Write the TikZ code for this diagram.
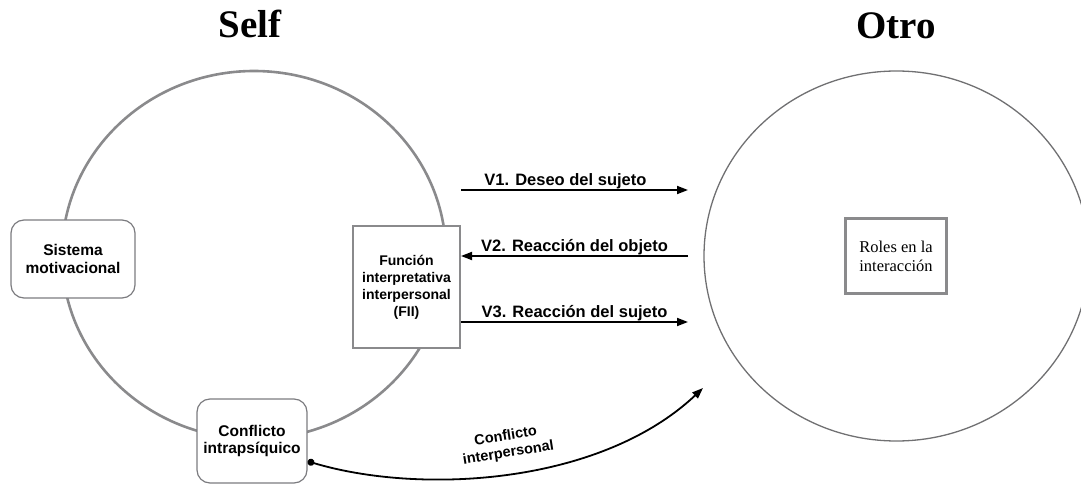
\documentclass[tikz,border=0pt]{standalone}
\usepackage{fontspec}
\setmainfont{Liberation Serif}
\setsansfont{Liberation Sans}
\usepackage{tikz}
\usepackage{xcolor}
\usetikzlibrary{arrows.meta}

\definecolor{circgray}{HTML}{8A8A8C}
\definecolor{linegray}{HTML}{707072}
\definecolor{boxgray}{HTML}{7C7C80}

\begin{document}
\begin{tikzpicture}[x=1pt,y=-1pt,
  boxround/.style={draw=boxgray,line width=1.2pt,rounded corners=13pt,fill=white,align=center,inner sep=0pt,font=\sffamily\bfseries\fontsize{15.5}{17.5}\selectfont},
  boxsquare/.style={draw=circgray,line width=2pt,fill=white,align=center,inner sep=0pt},
  varrow/.style={line width=1.8pt,-{Triangle[length=11pt,width=8pt]}},
  vlabel/.style={above,inner sep=0.5pt,font=\sffamily\bfseries\fontsize{16.5}{19}\selectfont},
  title/.style={font=\bfseries\fontsize{39}{40}\selectfont}]
\useasboundingbox (0,0) rectangle (1081,486);

\node[title] (tself) at (250,24) {Self};
\node[title] (totro) at (896,26) {Otro};

\draw[circgray,line width=2.6pt] (254,255) ellipse [x radius=192,y radius=184];
\draw[linegray,line width=1.3pt] (896.5,256) ellipse [x radius=192.5,y radius=185];

\node[boxround,minimum width=124,minimum height=78] (sismot) at (73,259) {Sistema\\motivacional};
\node[boxsquare,minimum width=107,minimum height=122,font=\sffamily\bfseries\fontsize{14}{17}\selectfont] (fii) at (406.5,287) {Función\\interpretativa\\interpersonal\\(FII)};
\node[boxround,minimum width=110,minimum height=84] (cintra) at (252,441) {Conflicto\\intrapsíquico};
\node[boxsquare,line width=2.4pt,minimum width=101,minimum height=75,font=\fontsize{16.5}{19}\selectfont] (roles) at (896,256) {Roles en la\\interacción};

\coordinate (v1) at (688,190);
\coordinate (v2) at (688,256);
\coordinate (v3) at (688,322);
\draw[varrow] (v1 -| fii.east) -- node[vlabel,pos=0.46] (lv1) {V1. Deseo del sujeto} (v1);
\draw[varrow] (v2) -- node[vlabel] (lv2) {V2. Reacción del objeto} (v2 -| fii.east);
\draw[varrow] (v3 -| fii.east) -- node[vlabel] (lv3) {V3. Reacción del sujeto} (v3);

\coordinate (cend) at (703,388);
\draw[line width=1.8pt,{Circle[length=7pt]}-{Triangle[length=11pt,width=8pt]}] (cintra.-20) .. controls (420,495) and (600,485) .. (cend);
\node[rotate=9,align=center,font=\sffamily\bfseries\fontsize{14.5}{17}\selectfont] (cinter) at (507,445) {Conflicto\\interpersonal};
\end{tikzpicture}
\end{document}
